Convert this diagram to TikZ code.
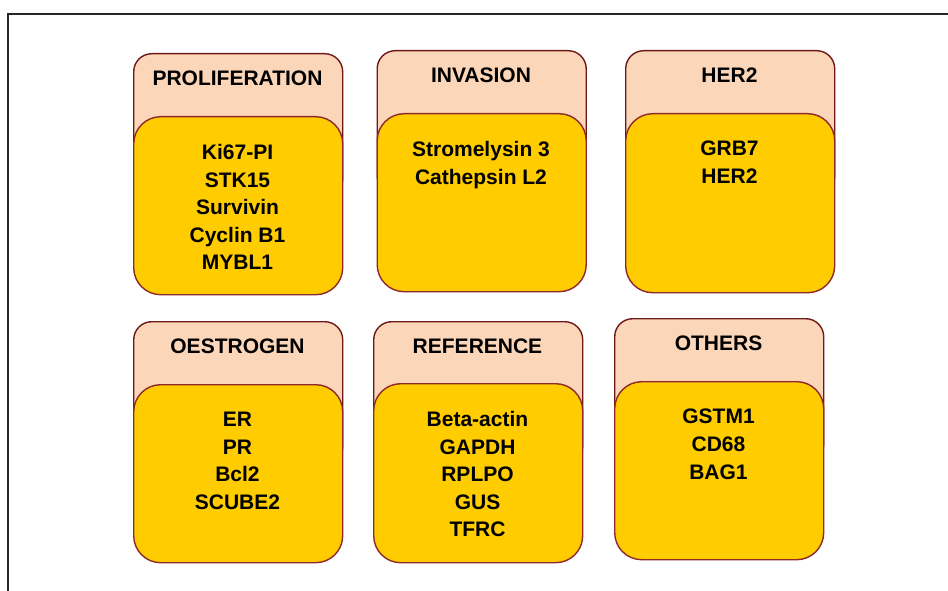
\documentclass[tikz,border=0pt]{standalone}
\usepackage{fontspec}
\setmainfont{Liberation Sans}
\definecolor{peach}{HTML}{FBD6B8}
\definecolor{gold}{HTML}{FFCC00}
\definecolor{outerline}{HTML}{6E1818}
\definecolor{innerline}{HTML}{8E2A2A}
\tikzset{
  frameline/.style={draw=black!85, line width=1.3pt},
  outerbox/.style={draw=outerline, fill=peach, line width=1.4pt, rounded corners=18pt,
    rectangle, minimum width=209pt, inner sep=0pt},
  innerbox/.style={draw=innerline, fill=gold, line width=1.4pt, rounded corners=27pt,
    rectangle, minimum width=209pt, inner sep=0pt},
  headtext/.style={font=\fontsize{21}{27.6}\selectfont\bfseries, inner sep=0pt, anchor=center},
  bodytext/.style={font=\fontsize{21}{27.6}\selectfont\bfseries, inner sep=0pt, anchor=north, align=center},
}
% #1 name, #2 left x, #3 top, #4 inner top, #5 bottom, #6 header, #7 lines
\newcommand{\genebox}[7]{%
  \node[outerbox, anchor=north west, minimum height={(#4-#3+80)*1pt}] (#1-out) at (#2,#3) {};
  \node[innerbox, anchor=north west, minimum height={(#5-#4)*1pt}] (#1-in) at (#2,#4) {};
  \node[headtext] (#1-head) at (#2+104.5,#3+25) {#6};
  \node[bodytext] (#1-body) at (#2+104.5,#4+28) {#7};
}
\begin{document}
\begin{tikzpicture}[x=1pt,y=-1pt]
\useasboundingbox (0,0) rectangle (948,591);
\coordinate (fr-tr) at (948,14);
\coordinate (fr-tl) at (8,14);
\coordinate (fr-bl) at (8,591);
\draw[frameline] (fr-tr) -- (fr-tl) -- (fr-bl);

\genebox{prolif}{133}{53}{116}{294}{PROLIFERATION}{Ki67-PI\\STK15\\Survivin\\Cyclin B1\\MYBL1}
\genebox{invasion}{376.5}{50}{113}{291}{INVASION}{Stromelysin 3\\Cathepsin L2}
\genebox{her2}{625}{50}{113}{292}{HER2}{GRB7\\HER2}
\genebox{oestro}{133}{321}{384}{562}{OESTROGEN}{ER\\PR\\Bcl2\\SCUBE2}
\genebox{reference}{373}{321}{383}{562}{REFERENCE}{Beta-actin\\GAPDH\\RPLPO\\GUS\\TFRC}
\genebox{others}{614}{318}{381}{559}{OTHERS}{GSTM1\\CD68\\BAG1}
\end{tikzpicture}
\end{document}
